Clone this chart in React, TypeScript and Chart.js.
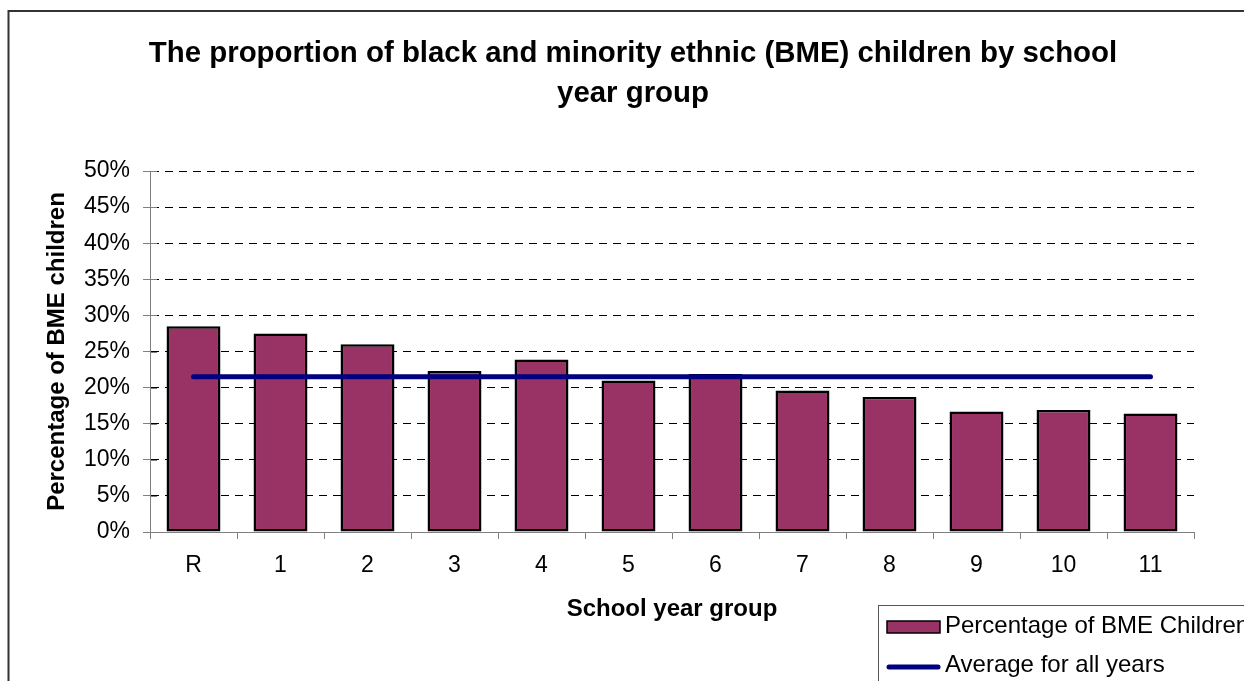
import React, { useEffect, useRef } from 'react';
import { Chart, registerables } from 'chart.js';

Chart.register(...registerables);

const titleLines = [
  'The proportion of black and minority ethnic (BME) children by school',
  'year group',
];
const categories = ['R', '1', '2', '3', '4', '5', '6', '7', '8', '9', '10', '11'];
const bmePercent = [28.5, 27.5, 26.0, 22.3, 23.9, 21.0, 21.9, 19.6, 18.7, 16.7, 16.9, 16.4];
const averagePercent = [21.5, 21.5, 21.5, 21.5, 21.5, 21.5, 21.5, 21.5, 21.5, 21.5, 21.5, 21.5];
const seriesLabels = ['Percentage of BME Children', 'Average for all years'];
const xAxisTitle = 'School year group';
const yAxisTitle = 'Percentage of BME children';
const yMin = 0;
const yMax = 50;
const yStep = 5;

const FONT = "'Liberation Sans', Arial, sans-serif";
const BAR_COLOR = '#993366';
const LINE_COLOR = '#000080';
const AXIS_COLOR = '#808080';

const framePlugin = {
  id: 'frameAndTitle',
  beforeDraw(chart: any) {
    const ctx = chart.ctx;
    ctx.save();
    ctx.fillStyle = '#ffffff';
    ctx.fillRect(0, 0, chart.width, chart.height);
    ctx.strokeStyle = '#333333';
    ctx.lineWidth = 2;
    ctx.strokeRect(8.5, 11, chart.width + 50, chart.height + 50);
    ctx.restore();
  },
  afterDraw(chart: any) {
    const ctx = chart.ctx;
    ctx.save();
    ctx.fillStyle = '#000000';
    ctx.font = `bold 29.4px ${FONT}`;
    ctx.textAlign = 'center';
    ctx.textBaseline = 'alphabetic';
    titleLines.forEach((line, i) => {
      ctx.fillText(line, 633, 62 + i * 40);
    });
    ctx.restore();
  },
};

const crossTickPlugin = {
  id: 'crossTicks',
  afterDraw(chart: any) {
    const ctx = chart.ctx;
    const y = chart.scales.y;
    ctx.save();
    ctx.strokeStyle = AXIS_COLOR;
    ctx.lineWidth = 1;
    y.ticks.forEach((t: any) => {
      const py = Math.round(y.getPixelForValue(t.value)) + 0.5;
      ctx.beginPath();
      ctx.moveTo(y.right, py);
      ctx.lineTo(y.right + 7, py);
      ctx.stroke();
    });
    ctx.restore();
  },
};

const legendPlugin = {
  id: 'boxLegend',
  afterDraw(chart: any) {
    const ctx = chart.ctx;
    const ds = chart.data.datasets;
    const left = 878;
    const top = 605;
    ctx.save();
    ctx.fillStyle = '#ffffff';
    ctx.fillRect(left, top, chart.width - left + 10, chart.height - top + 10);
    ctx.strokeStyle = '#555555';
    ctx.lineWidth = 1;
    ctx.strokeRect(left + 0.5, top + 0.5, chart.width + 50, chart.height + 50);

    ctx.font = `24px ${FONT}`;
    ctx.textBaseline = 'middle';
    ctx.textAlign = 'left';

    // bar item
    ctx.fillStyle = ds[0].backgroundColor;
    ctx.fillRect(887, 621, 53, 12);
    ctx.strokeStyle = '#000000';
    ctx.lineWidth = 1.5;
    ctx.strokeRect(887, 621, 53, 12);
    ctx.fillStyle = '#000000';
    ctx.fillText(ds[0].label, 945, 626);

    // line item
    ctx.strokeStyle = ds[1].borderColor;
    ctx.lineWidth = 5;
    ctx.lineCap = 'round';
    ctx.beginPath();
    ctx.moveTo(889, 667);
    ctx.lineTo(938, 667);
    ctx.stroke();
    ctx.fillStyle = '#000000';
    ctx.fillText(ds[1].label, 945, 665);
    ctx.restore();
  },
};

export default function App() {
  const canvasRef = useRef<HTMLCanvasElement | null>(null);

  useEffect(() => {
    const canvas = canvasRef.current;
    if (!canvas) return;
    Chart.defaults.font.family = FONT;
    Chart.defaults.color = '#000000';
    const chart = new Chart(canvas, {
      type: 'bar',
      data: {
        labels: categories,
        datasets: [
          {
            type: 'bar',
            label: seriesLabels[0],
            data: bmePercent,
            backgroundColor: BAR_COLOR,
            borderColor: '#000000',
            borderWidth: 2.5,
            borderSkipped: false,
            barPercentage: 0.62,
            categoryPercentage: 1,
            order: 2,
          } as any,
          {
            type: 'line',
            label: seriesLabels[1],
            data: averagePercent,
            borderColor: LINE_COLOR,
            backgroundColor: LINE_COLOR,
            borderWidth: 5,
            borderCapStyle: 'round',
            pointRadius: 0,
            fill: false,
            order: 1,
          } as any,
        ],
      },
      options: {
        animation: false,
        responsive: true,
        maintainAspectRatio: false,
        layout: { padding: { top: 171, right: 50, bottom: 0, left: 0 } },
        plugins: {
          legend: { display: false },
          title: { display: false },
          tooltip: { enabled: false },
        },
        scales: {
          x: {
            offset: true,
            grid: {
              offset: true,
              drawOnChartArea: false,
              drawTicks: true,
              tickLength: 7,
              tickColor: AXIS_COLOR,
              tickBorderDash: [],
            },
            border: { display: true, color: AXIS_COLOR, width: 1 },
            ticks: { font: { size: 23 }, color: '#000000', padding: 13, maxRotation: 0 },
            title: {
              display: true,
              text: xAxisTitle,
              font: { size: 24, weight: 'bold' },
              color: '#000000',
              padding: { top: 0, bottom: 57 },
            },
            afterFit(scale: any) {
              scale.height = 149;
            },
          },
          y: {
            min: yMin,
            max: yMax,
            ticks: {
              stepSize: yStep,
              font: { size: 23 },
              color: '#000000',
              padding: 13,
              callback: (v: any) => `${v}%`,
            },
            grid: {
              color: (c: any) => (c.tick && c.tick.value === 0 ? 'rgba(0,0,0,0)' : '#000000'),
              lineWidth: 1,
              drawTicks: true,
              tickLength: 7,
              tickColor: AXIS_COLOR,
              tickBorderDash: [],
            },
            border: { display: true, color: AXIS_COLOR, width: 1, dash: [8, 6] },
            title: {
              display: true,
              text: yAxisTitle,
              font: { size: 24, weight: 'bold' },
              color: '#000000',
              padding: { top: 43, bottom: 0 },
            },
            afterFit(scale: any) {
              scale.width = 150;
            },
          },
        },
      },
      plugins: [framePlugin, crossTickPlugin, legendPlugin],
    });
    return () => chart.destroy();
  }, []);

  return (
    <div style={{ position: 'fixed', left: 0, top: 0, width: 1244, height: 681, overflow: 'hidden', background: '#fff' }}>
      <canvas ref={canvasRef} />
    </div>
  );
}
